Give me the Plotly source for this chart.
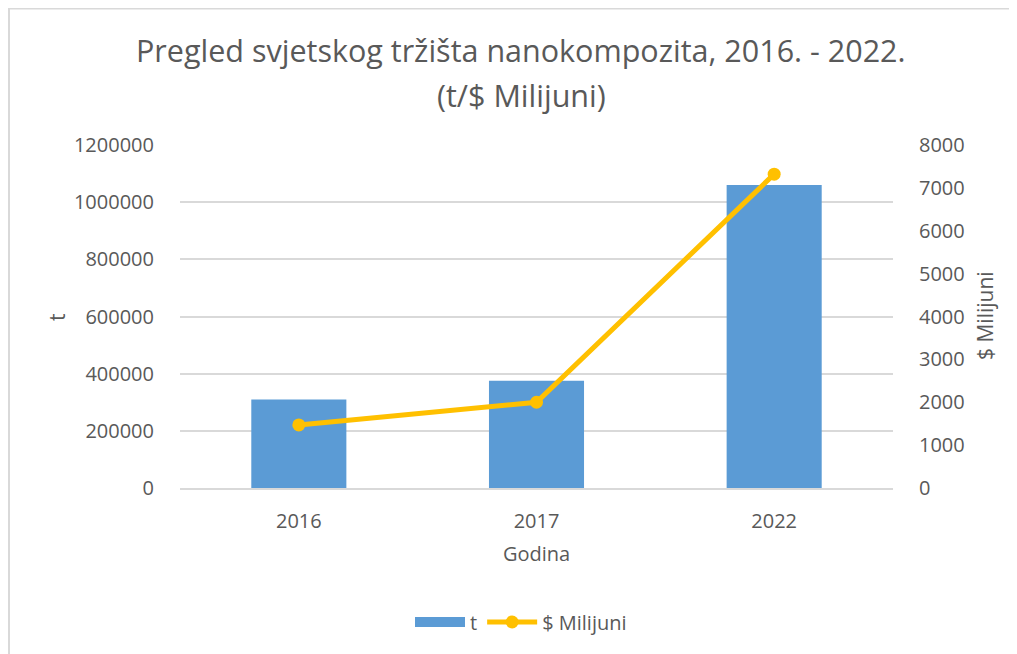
import plotly.graph_objects as go

years = ["2016", "2017", "2022"]
tonnes = [310000, 375000, 1060000]
usd_millions = [1470, 2000, 7320]
left_ticks = [0, 200000, 400000, 600000, 800000, 1000000, 1200000]
right_ticks = [0, 1000, 2000, 3000, 4000, 5000, 6000, 7000, 8000]
title_lines = ["Pregled svjetskog tržišta nanokompozita, 2016. - 2022.", "(t/$ Milijuni)"]

FONT = "Open Sans"
GRAY = "#595959"
BLUE = "#5B9BD5"
GOLD = "#FFC000"

# page body has an 8px margin; work in reference pixel coords and shift
OFF = 8
W, H = 1017 - OFF, 654 - OFF
L, R, T, B = 180 - OFF, 893 - OFF, 145 - OFF, 488 - OFF
pw = R - L
ph = B - T

def px(x):
    return (x - OFF - L) / pw

def py(y):
    return (B - (y - OFF)) / ph

fig = go.Figure()
fig.add_trace(go.Bar(x=years, y=tonnes, name="t", marker=dict(color=BLUE, line=dict(width=0)),
                     yaxis="y", showlegend=False))
# legend proxy for the bar series (wide rectangular swatch)
fig.add_trace(go.Scatter(x=[None], y=[None], name="t", mode="lines",
                         line=dict(color=BLUE, width=11), yaxis="y"))
fig.add_trace(go.Scatter(x=years, y=usd_millions, name="$ Milijuni", mode="lines+markers",
                         line=dict(color=GOLD, width=5), marker=dict(color=GOLD, size=13),
                         yaxis="y2"))

fig.update_layout(
    width=W, height=H,
    margin=dict(l=L, r=W - R, t=T, b=H - B, pad=0),
    paper_bgcolor="white", plot_bgcolor="white",
    font=dict(family=FONT, color=GRAY, size=20),
    bargap=0.6,
    showlegend=True,
    legend=dict(orientation="h", x=px(521), xanchor="center", y=py(622), yanchor="middle",
                font=dict(size=20, color=GRAY), tracegroupgap=0, itemwidth=50),
    xaxis=dict(type="category", showgrid=False, showline=True, linecolor="#D9D9D9", linewidth=1.5,
               ticks="outside", ticklen=14, tickcolor="rgba(0,0,0,0)", tickfont=dict(size=20, color=GRAY)),
    yaxis=dict(range=[0, 1200000], tickvals=left_ticks, ticktext=[str(v) for v in left_ticks],
               showgrid=True, gridcolor="#D9D9D9", gridwidth=1.5, zeroline=False,
               ticks="outside", ticklen=21, tickcolor="rgba(0,0,0,0)", tickfont=dict(size=20, color=GRAY)),
    yaxis2=dict(range=[0, 8000], tickvals=right_ticks, ticktext=[str(v) for v in right_ticks],
                overlaying="y", side="right", showgrid=False, zeroline=False,
                ticks="outside", ticklen=21, tickcolor="rgba(0,0,0,0)", tickfont=dict(size=20, color=GRAY)),
    annotations=[
        dict(text=title_lines[0], x=px(521), y=py(50), xref="paper", yref="paper", showarrow=False,
             font=dict(size=30.5, color=GRAY, family=FONT), xanchor="center", yanchor="middle"),
        dict(text=title_lines[1], x=px(521), y=py(95), xref="paper", yref="paper", showarrow=False,
             font=dict(size=30.5, color=GRAY, family=FONT), xanchor="center", yanchor="middle"),
        dict(text="Godina", x=px(536), y=py(553), xref="paper", yref="paper", showarrow=False,
             font=dict(size=20, color=GRAY), xanchor="center", yanchor="middle"),
        dict(text="t", x=px(57), y=py(317), xref="paper", yref="paper", showarrow=False, textangle=-90,
             font=dict(size=21, color=GRAY), xanchor="center", yanchor="middle"),
        dict(text="$ Milijuni", x=px(985), y=py(316), xref="paper", yref="paper", showarrow=False,
             textangle=-90, font=dict(size=21, color=GRAY), xanchor="center", yanchor="middle"),
    ],
    shapes=[
        dict(type="line", xref="paper", yref="paper", x0=px(8), x1=px(1017), y0=py(8.5), y1=py(8.5),
             line=dict(color="#D9D9D9", width=2)),
        dict(type="line", xref="paper", yref="paper", x0=px(9), x1=px(9), y0=py(8), y1=py(654),
             line=dict(color="#D9D9D9", width=2)),
    ],
)

fig.write_html("out.html")
